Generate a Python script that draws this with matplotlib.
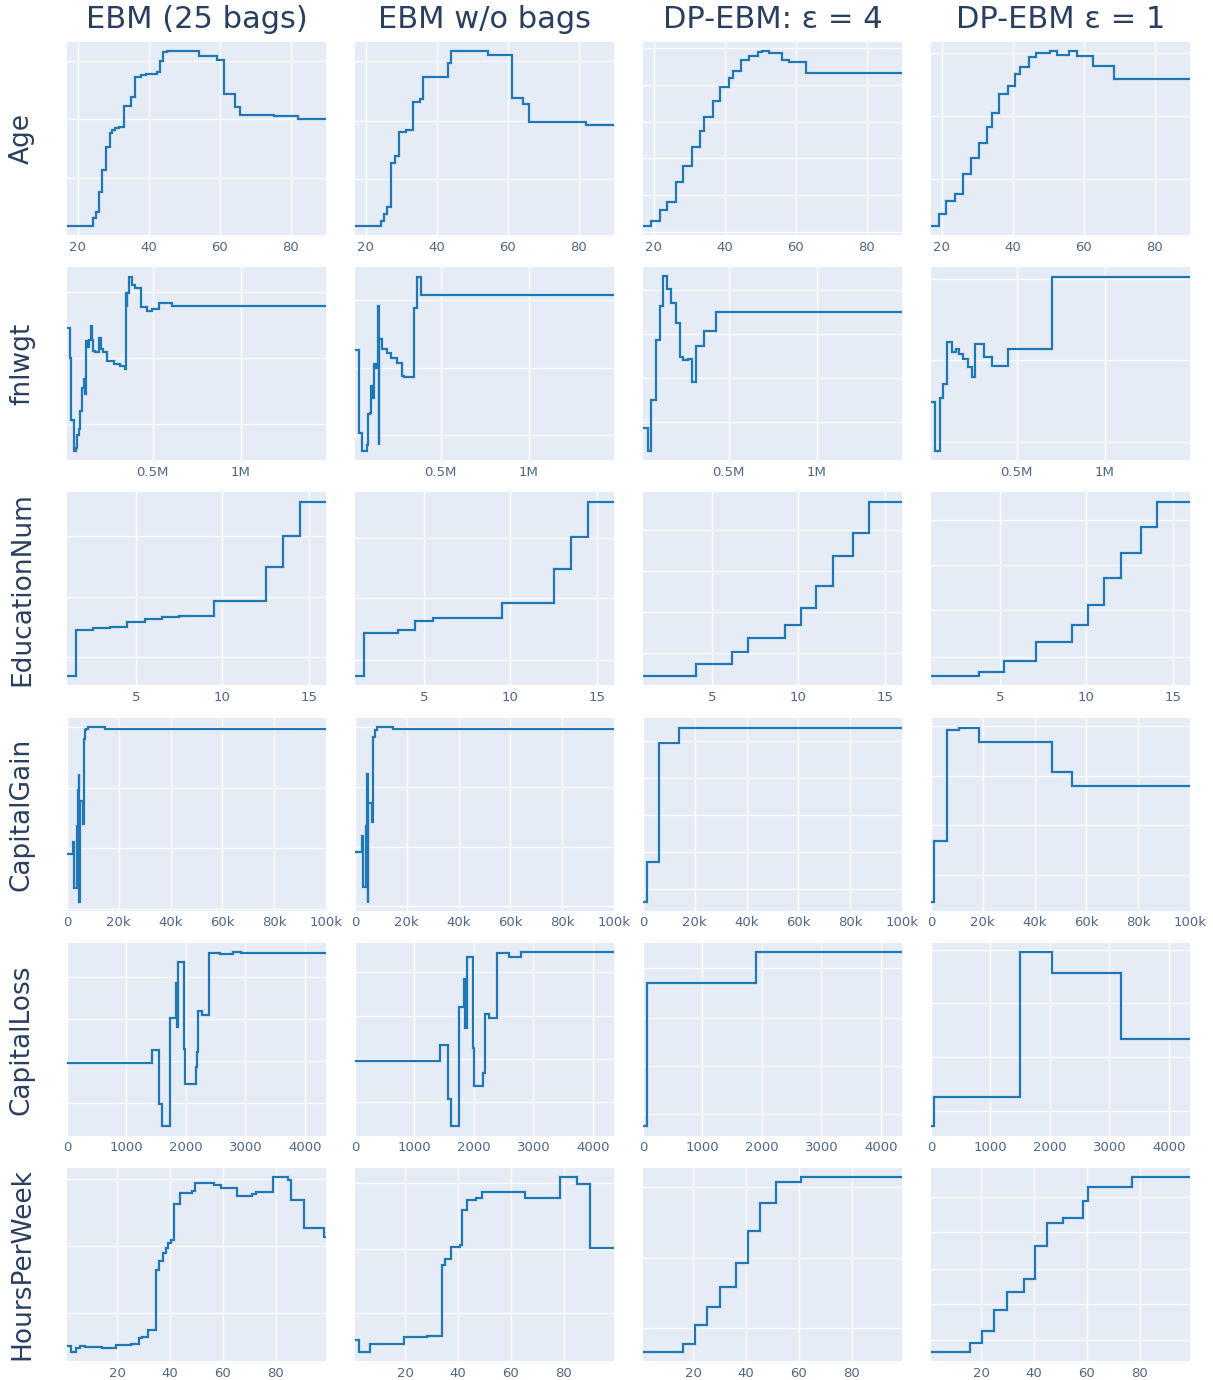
import matplotlib
matplotlib.use('Agg')
import matplotlib.pyplot as plt

# column titles and row labels
models = ['EBM (25 bags)', 'EBM w/o bags', 'DP-EBM: \u03b5 = 4', 'DP-EBM \u03b5 = 1']
features = ['Age', 'fnlwgt', 'EducationNum', 'CapitalGain', 'CapitalLoss', 'HoursPerWeek']

# y values are read off the picture as % of each panel's height (no y scale shown)
# --- Age
age_edges = [
    [17, 24.2, 25.1, 25.9, 27.0, 28.1, 29.0, 29.8, 30.6, 31.7, 33.2, 35.0, 36.2, 37.8, 39.4,
     42.3, 43.1, 44.0, 45.3, 54.2, 59.2, 61.2, 64.4, 65.9, 75.3, 82.2, 90],
    [17, 24.4, 25.3, 26.1, 27.2, 28.3, 29.4, 31.4, 33.3, 35.2, 36.3, 43.3, 44.1, 54.4, 61.3,
     64.4, 66.1, 82.2, 90],
    [17, 19.3, 21.7, 23.7, 26.2, 28.3, 30.7, 33.1, 34.2, 36.6, 38.7, 41.1, 42.4, 44.6, 47.0,
     49.3, 50.4, 52.5, 56.1, 58.2, 63.0, 90],
    [17, 19.3, 21.3, 23.7, 26.1, 28.3, 30.5, 32.8, 34.1, 36.3, 38.7, 40.8, 42.1, 44.5, 46.7,
     50.4, 52.5, 55.9, 58.2, 62.7, 68.5, 90],
]
age_values = [
    [4.7, 8.7, 11.9, 22.3, 33.5, 45.4, 52.9, 54.6, 55.5, 56.2, 66.7, 71.6, 81.7, 82.9, 83.4,
     84.6, 89.9, 94.6, 95.1, 93.0, 90.8, 73.3, 66.3, 62.0, 61.6, 60.2],
    [4.7, 7.5, 11.0, 14.3, 37.5, 41.0, 53.2, 54.5, 68.9, 70.7, 82.0, 89.0, 95.1, 93.4, 71.0,
     68.1, 58.3, 57.2],
    [4.7, 7.0, 13.1, 17.1, 27.7, 35.8, 45.7, 54.1, 61.1, 69.5, 76.8, 81.2, 85.2, 90.8, 92.8,
     94.6, 95.1, 94.2, 90.8, 89.5, 84.1],
    [4.7, 10.8, 17.5, 21.3, 31.4, 39.8, 47.5, 56.2, 63.2, 72.8, 77.3, 83.4, 87.3, 92.1, 94.2,
     95.1, 93.4, 95.1, 92.5, 87.8, 80.8],
]
age_grid = [[29.7, 60.2, 90.4], [29.1, 59.3, 89.9],
            [1.4, 20.6, 39.8, 58.5, 77.7, 96.9], [28.8, 61.6, 94.2]]

# --- fnlwgt (millions)
fnl_edges = [
    [0.0123, 0.0289, 0.0378, 0.0511, 0.0622, 0.0711, 0.0822, 0.0889, 0.0978, 0.1067, 0.1156,
     0.1222, 0.1289, 0.1378, 0.1467, 0.1533, 0.16, 0.1733, 0.1956, 0.2067, 0.2178, 0.24,
     0.2778, 0.3111, 0.34, 0.3467, 0.3511, 0.3556, 0.3622, 0.3822, 0.4, 0.4333, 0.4667,
     0.4956, 0.5378, 0.6111, 1.4847],
    [0.0123, 0.0333, 0.0378, 0.0533, 0.0822, 0.0889, 0.0978, 0.1044, 0.1111, 0.12, 0.1333,
     0.1422, 0.1467, 0.1489, 0.1644, 0.1933, 0.2156, 0.2489, 0.2778, 0.2933, 0.3489, 0.3644,
     0.3867, 1.4847],
    [0.0123, 0.0383, 0.0596, 0.0851, 0.1085, 0.1277, 0.1489, 0.1723, 0.2021, 0.2234, 0.2404,
     0.266, 0.2894, 0.3149, 0.3574, 0.4277, 1.4847],
    [0.0123, 0.0342, 0.062, 0.0812, 0.1047, 0.1303, 0.156, 0.1731, 0.1944, 0.2201, 0.2436,
     0.265, 0.312, 0.359, 0.4509, 0.703, 1.4847],
]
fnl_values = [
    [68.3, 53.2, 20.6, 4.7, 6.4, 13.3, 16.0, 25.5, 37.6, 41.9, 34.1, 61.9, 58.4, 62.2, 69.7,
     62.2, 56.7, 56.3, 63.3, 57.5, 56.3, 51.5, 49.7, 48.9, 47.1, 86.7, 79.2, 86.7, 95.1,
     91.0, 89.3, 79.2, 77.5, 78.3, 81.3, 79.7],
    [57.0, 37.6, 14.2, 4.7, 8.1, 23.7, 24.6, 38.5, 32.4, 49.7, 48.0, 80.1, 8.1, 62.7, 57.5,
     55.3, 53.2, 50.6, 43.7, 43.2, 78.7, 95.1, 85.8],
    [16.5, 4.7, 31.1, 62.1, 79.8, 95.5, 88.7, 81.7, 71.1, 53.4, 51.7, 52.5, 40.7, 59.3,
     66.8, 76.9],
    [29.9, 4.7, 32.2, 39.5, 61.2, 56.3, 57.4, 55.1, 52.5, 48.2, 43.3, 60.0, 53.4, 49.0,
     57.4, 95.1],
]
fnl_grid = [[18.7, 52.9, 87.0], [13.3, 48.0, 83.0],
            [19.8, 42.6, 65.2, 88.2], [9.4, 51.7, 93.9]]

# --- EducationNum
edu_edges = [
    [1, 1.5, 2.5, 3.5, 4.5, 5.5, 6.5, 7.5, 9.5, 11.5, 12.5, 13.5, 14.5, 16],
    [1, 1.5, 3.5, 4.5, 5.5, 9.5, 12.5, 13.5, 14.5, 16],
    [1, 4.09, 6.15, 7.09, 9.2, 10.13, 11.04, 11.98, 13.15, 14.09, 16],
    [1, 3.8, 5.2, 7.07, 9.17, 10.1, 11.04, 12.0, 13.15, 14.09, 16],
]
edu_values = [
    [4.9, 28.8, 29.5, 30.0, 32.9, 34.4, 35.2, 36.1, 43.6, 43.8, 61.6, 77.3, 94.8],
    [4.9, 27.1, 28.8, 33.5, 34.7, 42.5, 60.1, 76.9, 94.8],
    [4.9, 11.3, 17.4, 24.5, 31.4, 40.1, 51.7, 67.0, 79.2, 94.8],
    [4.9, 7.1, 12.7, 22.7, 31.4, 41.7, 55.6, 68.8, 82.1, 94.8],
]
edu_grid = [[14.9, 46.0, 77.3], [13.2, 45.1, 76.6],
            [16.7, 37.8, 59.2, 80.4], [14.8, 39.1, 62.5, 85.9]]

# --- CapitalGain (thousands)
gain_edges = [
    [0, 2.29, 2.6, 3.82, 4.12, 4.58, 4.73, 4.88, 6.1, 6.56, 6.87, 7.33, 7.94, 14.5, 99.999],
    [0, 2.62, 3.08, 4.15, 4.46, 4.77, 4.92, 5.07, 6.46, 6.92, 7.54, 8.31, 14.6, 99.999],
    [0, 1.5, 6.1, 13.8, 99.999],
    [0, 1.2, 6.3, 10.9, 18.6, 46.7, 54.6, 99.999],
]
gain_values = [
    [29.1, 35.8, 11.7, 43.6, 62.3, 70.7, 4.4, 56.7, 44.9, 89.0, 93.4, 94.2, 95.1, 94.2],
    [30.2, 38.4, 12.2, 43.6, 62.8, 70.7, 4.0, 55.5, 45.9, 89.9, 93.7, 95.1, 94.2],
    [4.4, 25.0, 86.7, 94.8],
    [4.4, 36.1, 93.4, 94.8, 87.3, 71.6, 64.6],
]
gain_grid = [[0.9, 32.3, 63.7, 95.1], [2.3, 33.2, 64.0, 95.1],
             [11.0, 30.2, 49.4, 68.6, 87.8], [18.7, 44.2, 69.8, 95.5]]

# --- CapitalLoss
loss_edges = [
    [0, 1433, 1553, 1600, 1733, 1833, 1853, 1873, 1967, 1987, 2167, 2187, 2200, 2267, 2387,
     2580, 2800, 2933, 4356],
    [0, 1427, 1567, 1613, 1747, 1827, 1853, 1880, 1980, 2000, 2160, 2187, 2260, 2380, 2593,
     2800, 4356],
    [0, 63, 1905, 4356],
    [0, 51, 1492, 2038, 3194, 4356],
]
loss_values = [
    [37.6, 44.2, 16.5, 5.2, 61.2, 79.2, 56.3, 90.1, 45.1, 26.9, 35.9, 43.3, 64.6, 62.4,
     94.8, 94.1, 95.0, 94.8],
    [38.6, 47.1, 19.1, 5.2, 66.7, 81.5, 56.0, 92.4, 45.6, 25.6, 32.4, 62.9, 61.2, 94.5,
     92.7, 95.0],
    [4.9, 79.2, 95.0],
    [4.9, 20.3, 95.0, 84.4, 49.9],
]
loss_grid = [[17.0, 38.5, 60.7, 82.3], [17.3, 39.9, 62.0, 84.9],
             [11.3, 36.4, 61.2, 86.7], [13.0, 40.7, 68.8, 96.5]]

# --- HoursPerWeek
hours_edges = [
    [1, 2.4, 4.3, 5.8, 7.8, 14.3, 19.6, 25.2, 28.2, 29.4, 31.5, 34.6, 35.7, 37.5, 38.4, 39.4,
     40.2, 41.6, 43.9, 48.4, 49.6, 56.6, 59.1, 65.5, 71.0, 72.7, 79.0, 84.6, 85.7, 90.6,
     98.4, 99],
    [1, 2.6, 6.7, 19.6, 28.4, 33.9, 35.0, 37.3, 40.7, 41.4, 43.5, 46.8, 49.1, 65.3, 78.6,
     84.9, 89.9, 99],
    [1, 16.0, 20.7, 25.3, 30.0, 36.1, 40.8, 45.4, 51.3, 60.6, 99],
    [1, 15.7, 20.3, 24.9, 29.6, 36.0, 40.3, 45.0, 51.0, 58.6, 60.3, 77.1, 99],
]
hours_values = [
    [7.8, 4.7, 6.6, 7.7, 7.0, 6.6, 8.3, 9.0, 11.8, 12.5, 16.2, 47.3, 51.8, 55.7, 58.8, 60.9,
     62.6, 81.2, 87.0, 88.2, 92.2, 91.3, 89.6, 85.6, 86.6, 87.7, 95.1, 93.6, 83.5, 68.7,
     64.3],
    [11.0, 4.9, 9.0, 12.2, 13.0, 49.9, 52.7, 59.1, 60.3, 78.3, 83.5, 84.3, 87.8, 84.3, 95.3,
     91.8, 58.6],
    [4.9, 9.0, 18.6, 28.2, 38.6, 51.0, 67.3, 81.7, 92.7, 95.1],
    [4.9, 9.2, 15.7, 26.4, 35.8, 42.4, 59.7, 71.7, 74.3, 83.0, 90.4, 95.1],
]
hours_grid = [[24.9, 59.5, 94.3], [24.9, 57.9, 92.2],
              [16.9, 53.6, 90.1], [10.8, 29.6, 47.8, 66.6, 85.2]]

# x ranges, ticks and tick labels for each feature
x_limits = [(17, 90), (0.0123, 1.4847), (1, 16), (0, 99.999), (0, 4356), (1, 99)]
x_ticks = [[20, 40, 60, 80], [0.5, 1.0], [5, 10, 15],
           [0, 20, 40, 60, 80, 100], [0, 1000, 2000, 3000, 4000], [20, 40, 60, 80]]
x_ticklabels = [['20', '40', '60', '80'], ['0.5M', '1M'], ['5', '10', '15'],
                ['0', '20k', '40k', '60k', '80k', '100k'],
                ['0', '1000', '2000', '3000', '4000'], ['20', '40', '60', '80']]

all_edges = [age_edges, fnl_edges, edu_edges, gain_edges, loss_edges, hours_edges]
all_values = [age_values, fnl_values, edu_values, gain_values, loss_values, hours_values]
all_grid = [age_grid, fnl_grid, edu_grid, gain_grid, loss_grid, hours_grid]

W, H = 1213, 1380
fig = plt.figure(figsize=(W / 100, H / 100), dpi=100)
textcol = '#2a3f5f'

for i, feat in enumerate(features):
    top = 42 + 225.2 * i
    for j in range(4):
        left = 67 + 288 * j
        ax = fig.add_axes([left / W, 1 - (top + 193) / H, 259 / W, 193 / H])
        ax.set_facecolor('#E5ECF6')
        for s in ax.spines.values():
            s.set_visible(False)
        ax.stairs(all_values[i][j], all_edges[i][j], baseline=None,
                  color='#1f77b4', lw=1.6, zorder=3)
        ax.set_xlim(*x_limits[i])
        ax.set_ylim(0, 100)
        ax.set_xticks(x_ticks[i])
        ax.set_xticklabels(x_ticklabels[i])
        ax.set_yticks(all_grid[i][j])
        ax.set_yticklabels([])
        ax.grid(True, color='white', lw=0.9, zorder=0)
        ax.set_axisbelow(True)
        ax.tick_params(length=0, pad=4, labelsize=9.5, labelcolor='#506784')
        if i == 0:
            fig.text((left + 129.5) / W, 1 - 20 / H, models[j], ha='center', va='center',
                     fontsize=22, color=textcol)
    fig.text(22 / W, 1 - (top + 96.5) / H, feat, rotation=90, ha='center', va='center',
             fontsize=19, color=textcol)

plt.savefig('out.png', dpi=100)
